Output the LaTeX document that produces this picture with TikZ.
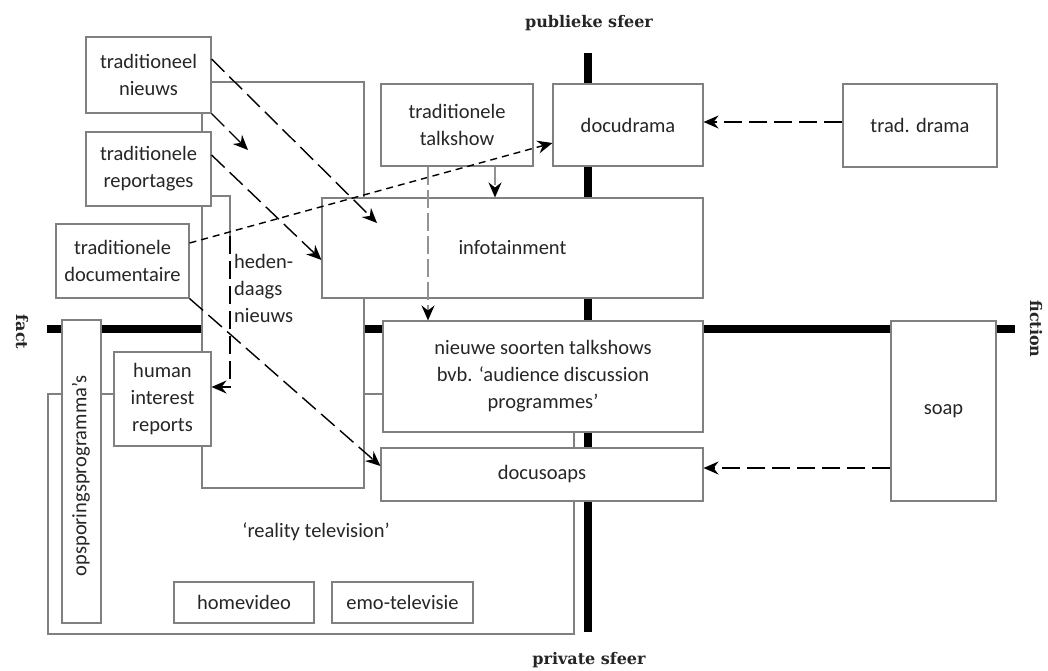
\documentclass[tikz,border=0pt]{standalone}
\usepackage{fontspec}
\setmainfont{Carlito}
\newfontfamily\lblfont{DejaVu Serif}
\usetikzlibrary{arrows.meta}
\definecolor{boxgray}{HTML}{808080}
\definecolor{txt}{HTML}{262626}
\begin{document}
\begin{tikzpicture}[x=1pt,y=-1pt,
  box/.style={draw=boxgray, line width=1.1pt, fill=white, inner sep=0pt, align=center,
    text=txt, font=\fontsize{20.5}{27}\selectfont},
  plain/.style={inner sep=0pt, align=center, text=txt, font=\fontsize{20.5}{27}\selectfont},
  sferelabel/.style={inner sep=0pt, text=txt, font=\lblfont\bfseries\fontsize{16}{18}\selectfont},
  axisline/.style={line width=7.5pt},
  tip/.style={-{Stealth[length=15pt,width=13pt,inset=5pt,color=black]}},
  longdash/.style={tip, line width=1.4pt, dash pattern=on 18pt off 7pt},
  greydash/.style={tip, line width=1.4pt, draw=gray!85, dash pattern=on 18pt off 5pt},
  shortdash/.style={tip, line width=1.4pt, dash pattern=on 7pt off 5pt},
]
\useasboundingbox (0,0) rectangle (1048,670);
\fill[white] (0,0) rectangle (1048,670);

% axes
\coordinate (hL) at (47,329);
\coordinate (hR) at (1015,329);
\coordinate (vT) at (588,53);
\coordinate (vB) at (588,632);
\draw[axisline] (hL) -- (hR);
\draw[axisline] (vT) -- (vB);

\node[sferelabel] (pub) at (589,23) {publieke sfeer};
\node[sferelabel] (priv) at (589,660) {private sfeer};
\node[sferelabel, rotate=-90] (fact) at (22,332) {fact};
\node[sferelabel, rotate=-90] (fiction) at (1036,329) {fiction};

% large background boxes
\node[box, minimum width=526, minimum height=240] (real) at (311,514) {};
\node[plain] (realtxt) at (316,532) {‘reality television’};
\node[box, minimum width=39, minimum height=303] (ops) at (81.5,471.5) {};
\node[plain, rotate=90] (opstxt) at (81,476) {opsporingsprogramma’s};
\node[box, minimum width=162, minimum height=406] (heden) at (283,285) {};
\node[plain, align=left, anchor=west] (hedentxt) at (234,288) {heden-\\daags\\nieuws};

% small boxes
\node[box, minimum width=125, minimum height=76] (tnieuws) at (148.5,75) {traditioneel\\nieuws};
\node[box, minimum width=125, minimum height=74] (trep) at (148.5,169) {traditionele\\reportages};
\node[box, minimum width=133, minimum height=74] (tdoc) at (122.5,261) {traditionele\\documentaire};
\node[box, minimum width=97, minimum height=94] (human) at (162.5,399) {human\\interest\\reports};
\node[box, minimum width=152, minimum height=82] (talk) at (457,125) {traditionele\\talkshow};
\node[box, minimum width=150, minimum height=82] (docudrama) at (628,125) {docudrama};
\node[box, minimum width=154, minimum height=83] (tdrama) at (920,125.5) {trad. drama};
\node[box, minimum width=381, minimum height=100] (info) at (512.5,248) {infotainment};
\node[box, minimum width=320, minimum height=111] (nieuwe) at (543,376.5) {nieuwe soorten talkshows\\bvb. ‘audience discussion\\programmes’};
\node[box, minimum width=322, minimum height=53] (docusoaps) at (542,474.5) {docusoaps};
\node[box, minimum width=105, minimum height=180] (soap) at (943.5,411) {soap};
\node[box, minimum width=140, minimum height=41] (homevideo) at (244,602.5) {homevideo};
\node[box, minimum width=141, minimum height=41] (emo) at (402.5,602.5) {emo-televisie};

% connector helper points
\coordinate (infoTip) at (377,223);
\coordinate (hedenTip) at (248,150);
\coordinate (elbowA) at (230,196);
\coordinate (elbowB) at (230,236);
\coordinate (elbowC) at (230,387);

% connectors
\draw[longdash] (tnieuws.east |- 0,59) -- (infoTip);
\draw[longdash] (tnieuws.south east) -- (hedenTip);
\draw[longdash] (trep.east |- 0,155) -- (info.west |- 0,260);
\draw[longdash] (tdoc.south east) -- (docusoaps.west |- 0,466);
\draw[draw=boxgray, line width=1.1pt] (trep.east |- elbowA) -- (elbowA) -- (elbowB);
\draw[longdash] (elbowB) -- (elbowC) -- (human.east |- elbowC);
\draw[shortdash] (tdoc.east |- 0,243) -- (docudrama.west |- 0,143);
\draw[greydash] (talk.south -| 428,0) -- (nieuwe.north -| 428,0);
\draw[greydash] (talk.south -| 495,0) -- (info.north -| 495,0);
\draw[longdash] (tdrama.west |- 0,122) -- (docudrama.east |- 0,122);
\draw[longdash] (soap.west |- 0,468) -- (docusoaps.east |- 0,468);
\end{tikzpicture}
\end{document}
